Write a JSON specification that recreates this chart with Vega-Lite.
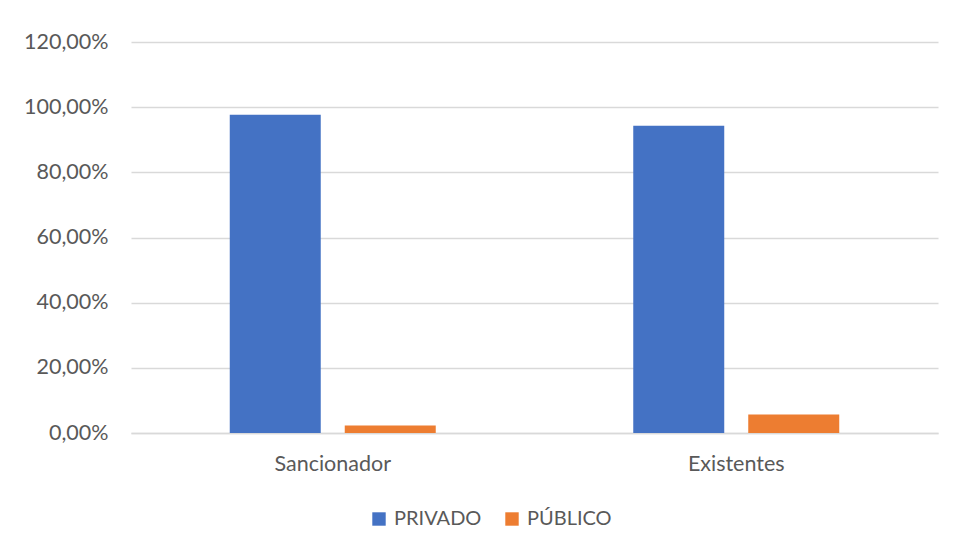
{
  "$schema": "https://vega.github.io/schema/vega-lite/v6.json",
  "width": 807,
  "height": 391,
  "autosize": {"type": "none"},
  "padding": {"left": 131, "top": 42, "right": 15, "bottom": 117},
  "background": "white",
  "config": {
    "locale": {
      "number": {"decimal": ",", "thousands": ".", "grouping": [3], "currency": ["", " €"]}
    },
    "font": "Lato",
    "view": {"stroke": null},
    "axis": {
      "labelFont": "Lato",
      "labelColor": "#595959",
      "labelFontSize": 21.5,
      "gridColor": "#d9d9d9",
      "gridWidth": 1.3,
      "ticks": false
    }
  },
  "data": {
    "values": [
      {"categoria": "Sancionador", "sector": "PRIVADO", "valor": 0.977},
      {"categoria": "Sancionador", "sector": "PÚBLICO", "valor": 0.023},
      {"categoria": "Existentes", "sector": "PRIVADO", "valor": 0.943},
      {"categoria": "Existentes", "sector": "PÚBLICO", "valor": 0.057}
    ]
  },
  "mark": {"type": "bar"},
  "encoding": {
    "x": {
      "field": "categoria",
      "type": "nominal",
      "sort": ["Sancionador", "Existentes"],
      "scale": {"paddingInner": 0, "paddingOuter": 0},
      "axis": {
        "title": null,
        "labelAngle": 0,
        "labelPadding": 20,
        "domain": true,
        "domainColor": "#d9d9d9",
        "domainWidth": 1.3,
        "grid": false
      }
    },
    "xOffset": {
      "field": "sector",
      "type": "nominal",
      "sort": ["PRIVADO", "PÚBLICO"],
      "scale": {"paddingInner": 0.2087, "paddingOuter": 0.8587}
    },
    "y": {
      "field": "valor",
      "type": "quantitative",
      "scale": {"domain": [0, 1.2], "nice": false},
      "axis": {
        "title": null,
        "format": ".2%",
        "values": [0, 0.2, 0.4, 0.6, 0.8, 1.0, 1.2],
        "domain": false,
        "labelPadding": 23
      }
    },
    "color": {
      "field": "sector",
      "type": "nominal",
      "sort": ["PRIVADO", "PÚBLICO"],
      "scale": {"domain": ["PRIVADO", "PÚBLICO"], "range": ["#4472C4", "#ED7D31"]},
      "legend": {
        "title": null,
        "orient": "none",
        "direction": "horizontal",
        "legendX": 238,
        "legendY": 467,
        "symbolType": "square",
        "symbolSize": 180,
        "symbolStrokeWidth": 0,
        "labelFont": "Lato",
        "labelFontSize": 20,
        "labelColor": "#595959",
        "labelOffset": 5,
        "columnPadding": 20
      }
    }
  }
}
